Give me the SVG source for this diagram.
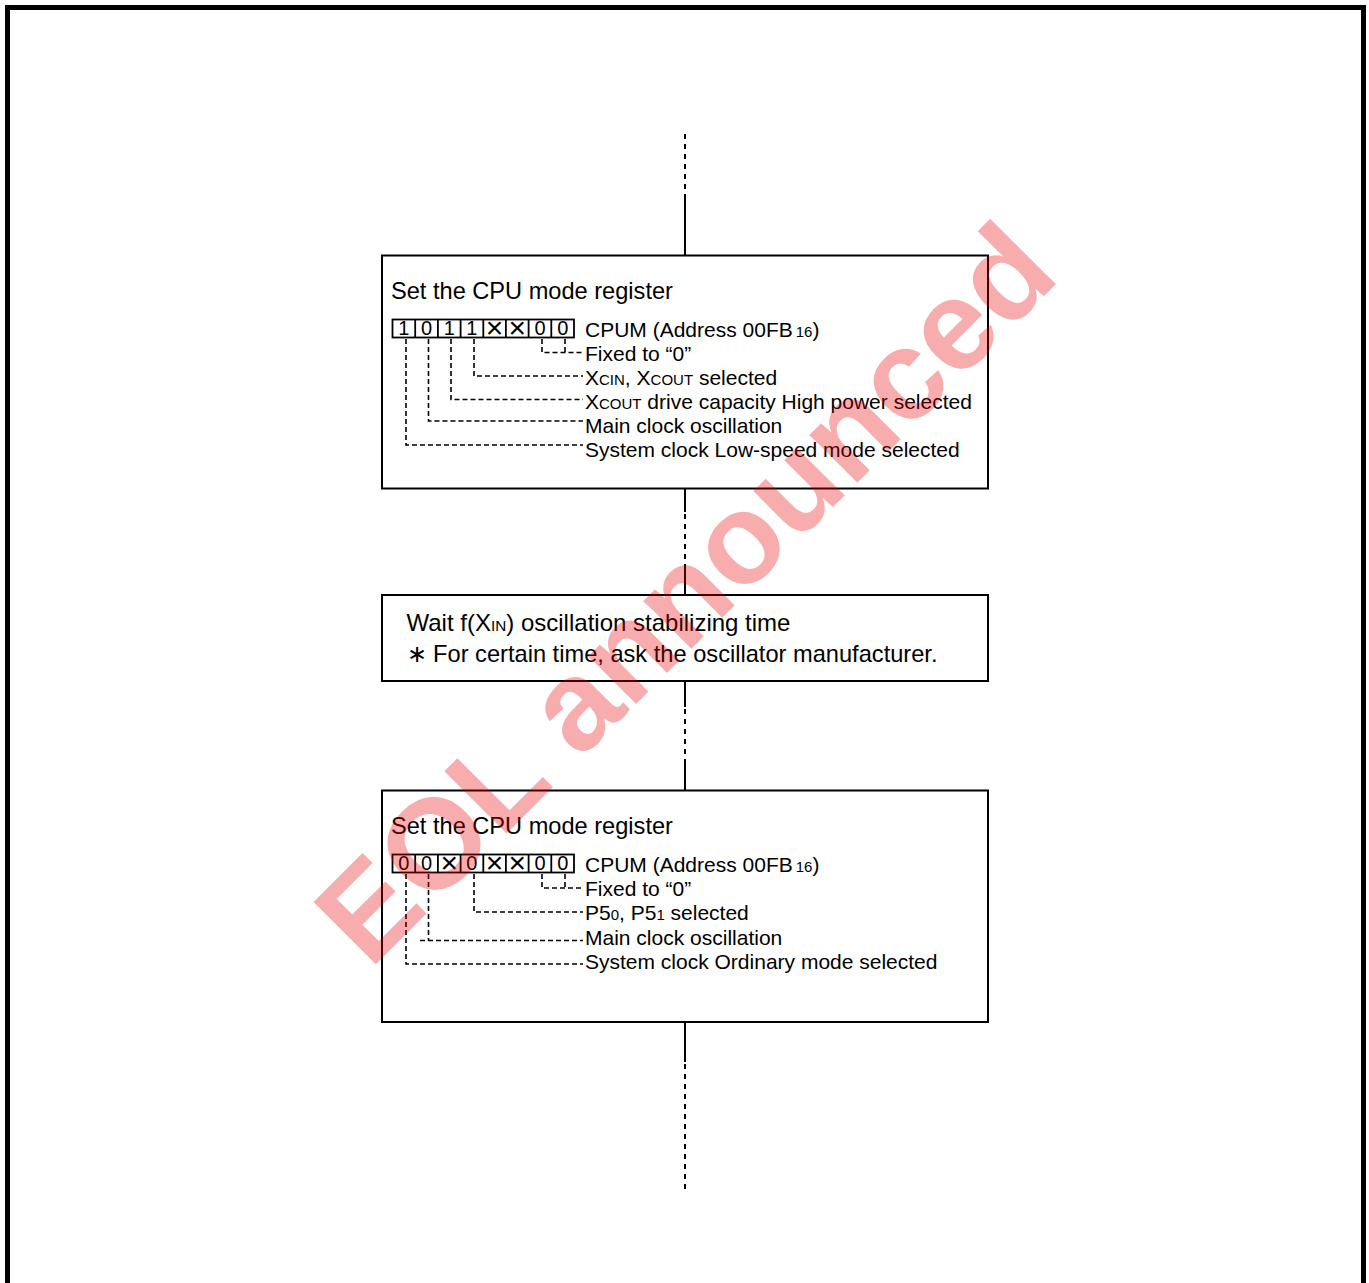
<svg xmlns="http://www.w3.org/2000/svg" width="1369" height="1283" viewBox="0 0 1369 1283">
<style>
text{font-family:"Liberation Sans",Arial,sans-serif;fill:#000}
.t{font-size:23.6px}
.l{font-size:21px}
.s{font-size:15px}
.d{font-size:20px;text-anchor:middle}
.x{font-size:30px;text-anchor:middle}
.box{fill:#fff;stroke:#000;stroke-width:2}
.cell{fill:none;stroke:#000;stroke-width:1.8}
.solid{stroke:#000;stroke-width:2;fill:none}
.dash{stroke:#000;stroke-width:2;stroke-dasharray:5 5;fill:none}
.ld{stroke:#000;stroke-width:1.6;stroke-dasharray:5 3;fill:none}
.wm{font-family:"Liberation Sans",Arial,sans-serif;font-weight:bold;font-size:128px;fill:#e60000;fill-opacity:0.32}
</style>
<rect width="1369" height="1283" fill="#fff"/>
<path d="M7.5,1295 V7.5 H1363.5 V1295" fill="none" stroke="#000" stroke-width="5"/>

<g id="connectors">
  <line class="dash" x1="685" y1="134" x2="685" y2="196"/>
  <line class="solid" x1="685" y1="196" x2="685" y2="255"/>
  <line class="solid" x1="685" y1="488" x2="685" y2="512"/>
  <line class="dash" x1="685" y1="514" x2="685" y2="566"/>
  <line class="solid" x1="685" y1="566" x2="685" y2="595"/>
  <line class="solid" x1="685" y1="681" x2="685" y2="707"/>
  <line class="dash" x1="685" y1="709" x2="685" y2="764"/>
  <line class="solid" x1="685" y1="764" x2="685" y2="790"/>
  <line class="solid" x1="685" y1="1022" x2="685" y2="1062"/>
  <line class="dash" x1="685" y1="1064" x2="685" y2="1190"/>
</g>

<g id="node-set-cpum-1">
  <rect class="box" x="382" y="255.5" width="606" height="233"/>
  <text class="t" x="391" y="299">Set the CPU mode register</text>
  <rect class="cell" x="392.5" y="319.5" width="181.5" height="18"/>
  <path class="cell" d="M415.2,319.5V337.5M437.9,319.5V337.5M460.6,319.5V337.5M483.3,319.5V337.5M505.9,319.5V337.5M528.6,319.5V337.5M551.3,319.5V337.5"/>
  <text class="d" x="403.8" y="335">1</text>
  <text class="d" x="426.5" y="335">0</text>
  <text class="d" x="449.2" y="335">1</text>
  <text class="d" x="471.9" y="335">1</text>
  <text class="x" x="494.6" y="338">×</text>
  <text class="x" x="517.3" y="338">×</text>
  <text class="d" x="540" y="335">0</text>
  <text class="d" x="562.7" y="335">0</text>
  <text class="l" x="585" y="336.5">CPUM (Address 00FB<tspan class="s" dx="3">16</tspan>)</text>
  <path class="ld" d="M542,339V352.5H583M565,339V352.5"/>
  <path class="ld" d="M474,339V376H583"/>
  <path class="ld" d="M451,339V399.5H583"/>
  <path class="ld" d="M428.5,339V421H583"/>
  <path class="ld" d="M406,339V445H583"/>
  <text class="l" x="585" y="361">Fixed to “0”</text>
  <text class="l" x="585" y="385">X<tspan class="s">CIN</tspan>, X<tspan class="s">COUT</tspan> selected</text>
  <text class="l" x="585" y="409">X<tspan class="s">COUT</tspan> drive capacity High power selected</text>
  <text class="l" x="585" y="433">Main clock oscillation</text>
  <text class="l" x="585" y="457">System clock Low-speed mode selected</text>
</g>

<g id="node-wait">
  <rect class="box" x="382" y="595" width="606" height="86"/>
  <text class="t" x="406.5" y="631" textLength="384" lengthAdjust="spacingAndGlyphs">Wait f(X<tspan class="s">IN</tspan>) oscillation stabilizing time</text>
  <text class="t" x="406.5" y="662" textLength="531" lengthAdjust="spacingAndGlyphs">∗ For certain time, ask the oscillator manufacturer.</text>
</g>

<g id="node-set-cpum-2">
  <rect class="box" x="382" y="790.5" width="606" height="231.5"/>
  <text class="t" x="391" y="834">Set the CPU mode register</text>
  <rect class="cell" x="392.5" y="854.5" width="181.5" height="18"/>
  <path class="cell" d="M415.2,854.5V872.5M437.9,854.5V872.5M460.6,854.5V872.5M483.3,854.5V872.5M505.9,854.5V872.5M528.6,854.5V872.5M551.3,854.5V872.5"/>
  <text class="d" x="403.8" y="870">0</text>
  <text class="d" x="426.5" y="870">0</text>
  <text class="x" x="449.2" y="873">×</text>
  <text class="d" x="471.9" y="870">0</text>
  <text class="x" x="494.6" y="873">×</text>
  <text class="x" x="517.3" y="873">×</text>
  <text class="d" x="540" y="870">0</text>
  <text class="d" x="562.7" y="870">0</text>
  <text class="l" x="585" y="871.5">CPUM (Address 00FB<tspan class="s" dx="3">16</tspan>)</text>
  <path class="ld" d="M542,874V888H583M565,874V888"/>
  <path class="ld" d="M474,874V912H583"/>
  <path class="ld" d="M428.5,874V940.5M420,940.5H583"/>
  <path class="ld" d="M406,874V964H583"/>
  <text class="l" x="585" y="896">Fixed to “0”</text>
  <text class="l" x="585" y="920">P5<tspan class="s">0</tspan>, P5<tspan class="s">1</tspan> selected</text>
  <text class="l" x="585" y="944.5">Main clock oscillation</text>
  <text class="l" x="585" y="968.5">System clock Ordinary mode selected</text>
</g>

<g id="watermark">
  <text class="wm" text-anchor="middle" transform="translate(716,624) rotate(-45)">EOL announced</text>
</g>
</svg>
